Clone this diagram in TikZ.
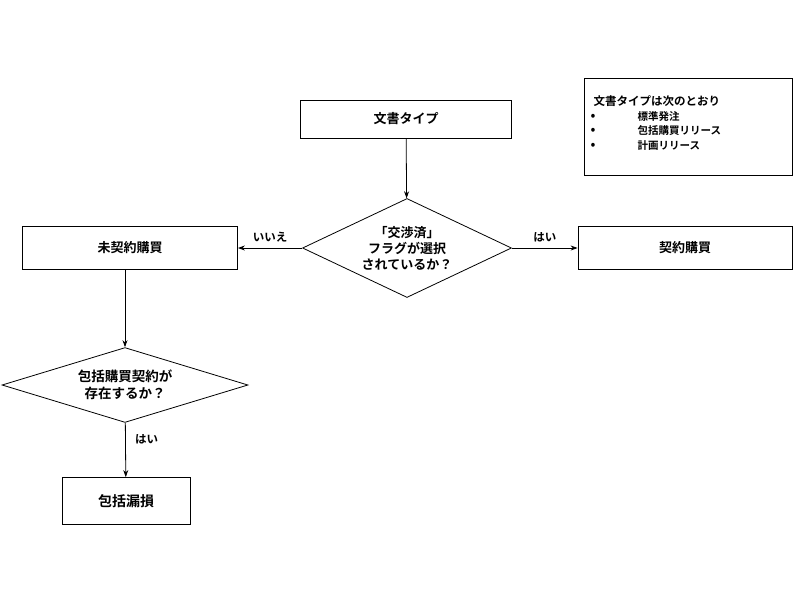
\documentclass[tikz,border=0pt]{standalone}
\usepackage{fontspec}
\setmainfont{Noto Sans CJK JP}[BoldFont={* Bold}]
\usepackage{tikz}
\usetikzlibrary{shapes.geometric,arrows.meta}

\tikzset{
  stepbox/.style={draw,thick,minimum height=38pt,font=\bfseries\fontsize{13}{15}\selectfont},
  choice/.style={draw,thick,diamond,aspect=2.1,inner sep=0pt,align=center,font=\bfseries\fontsize{13}{16}\selectfont},
  lbl/.style={font=\bfseries\fontsize{11.5}{13}\selectfont},
}

\begin{document}
\begin{tikzpicture}[x=1pt,y=-1pt]
    \useasboundingbox (0,0) rectangle (800,600);
    \node[stepbox,minimum width=211pt] (doc) at (406,119) {文書タイプ};
    \node[choice,minimum width=209pt,minimum height=99pt] (flag) at (407,248) {「交渉済」\\フラグが選択\\されているか？};
    \node[stepbox,minimum width=215pt,minimum height=43pt] (none) at (130,248) {未契約購買};
    \node[stepbox,minimum width=214pt,minimum height=43pt] (contract) at (685,248) {契約購買};
    \node[choice,minimum width=246pt,minimum height=74pt,font=\bfseries\fontsize{13.5}{17}\selectfont] (exist) at (125,385) {包括購買契約が\\存在するか？};
    \node[stepbox,minimum width=128pt,minimum height=47pt,font=\bfseries\fontsize{14}{16}\selectfont] (leak) at (126,501) {包括漏損};

    % note
    \draw[thick] (584,78) rectangle (792,175);
    \node[anchor=west,font=\bfseries\fontsize{11.5}{13}\selectfont] (note) at (590,101) {文書タイプは次のとおり};
    \foreach \y/\t in {117/標準発注, 131/包括購買リリース, 146/計画リリース} {
      \node[font=\Large] at (593,\y) {•};
      \node[anchor=west,font=\bfseries\fontsize{10.5}{12}\selectfont] at (634,\y) {\t};
    }

    \path[-{Stealth[length=7pt,width=5pt]},thick]
    (doc) edge (flag)
    (flag) edge node[lbl,above=2pt] {いいえ} (none)
    (flag) edge node[lbl,above=2pt] {はい} (contract)
    (none.south -| exist.north) edge (exist)
    (exist) edge node[lbl,right=6pt,pos=0.3] {はい} (leak);
\end{tikzpicture}
\end{document}
